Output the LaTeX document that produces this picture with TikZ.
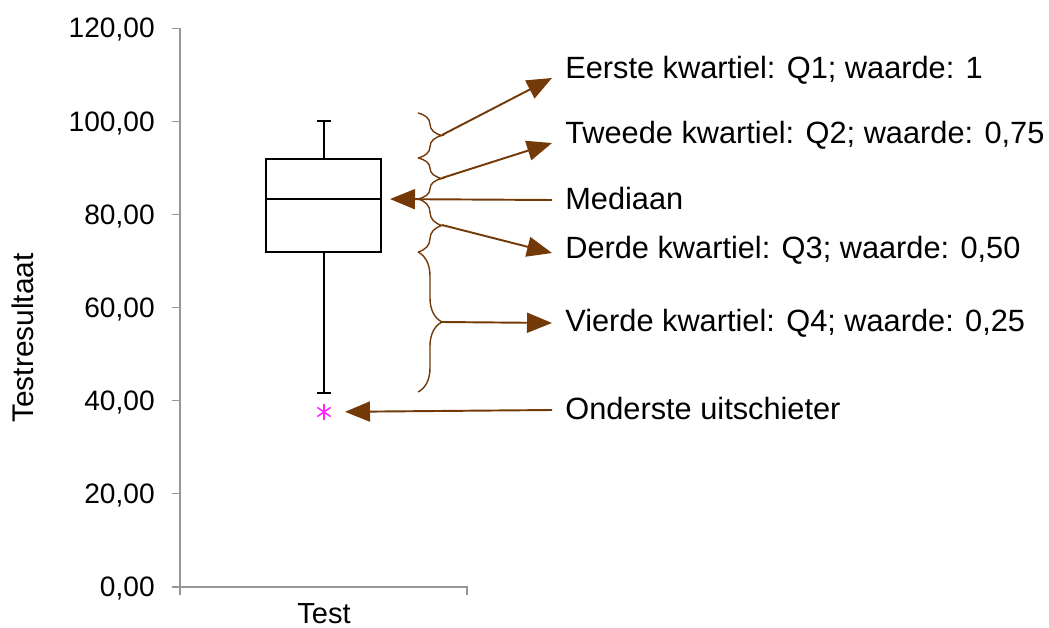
\documentclass[tikz,border=0pt]{standalone}
\usepackage{fontspec}
\setmainfont{Liberation Sans}
\usetikzlibrary{arrows.meta,decorations.pathreplacing}
\definecolor{bruin}{RGB}{115,58,8}
\definecolor{asgrijs}{RGB}{150,150,150}
\definecolor{roze}{RGB}{250,40,250}
\tikzstyle{uitleg} = [anchor=base west, inner sep=0pt, font=\fontsize{17.5}{21}\selectfont]
\tikzstyle{getal} = [anchor=east, inner sep=0pt, text depth=0pt, font=\fontsize{16}{19}\selectfont]
\tikzstyle{as} = [asgrijs, line width=0.6pt]
\tikzstyle{doos} = [black, line width=1.7pt]
\tikzstyle{accolade} = [bruin, line width=0.8pt, decorate, decoration={brace, amplitude=0.48cm}]
\tikzstyle{arrow} = [bruin, line width=1.1pt, -{Triangle[length=0.5cm,width=0.4cm]}]

\begin{document}
\begin{tikzpicture}[x=0.02cm, y=-0.02cm]
\useasboundingbox (0,0) rectangle (1049,628);

% assen
\draw[as] (180,28) -- (180,595);
\draw[as] (180,587) -- (467,587) -- (467,595);
\foreach \v/\t in {0/{0,00},20/{20,00},40/{40,00},60/{60,00},80/{80,00},100/{100,00},120/{120,00}} {
  \draw[as] (172,587-4.658*\v) -- (180,587-4.658*\v);
  \node[getal] (t\v) at (155,587-4.658*\v) {\t};
}
\node[inner sep=0pt, anchor=base, font=\fontsize{16.5}{20}\selectfont] (test) at (324,623) {Test};
\node[inner sep=0pt, anchor=base, rotate=90, font=\fontsize{17}{20}\selectfont] (ylabel) at (33,338) {Testresultaat};

% boxplot
\draw[doos] (266,159) rectangle (381,252);
\draw[doos] (266,199) -- (381,199);
\draw[doos] (324,159) -- (324,121) (317,121) -- (331,121);
\draw[doos] (324,252) -- (324,393) (317,393) -- (331,393);
\coordinate (med) at (381,199);
\coordinate (uitschieter) at (324,412);
\foreach \a in {90,35,145}
  \draw[roze, line width=0.9pt] (uitschieter) ++(\a:8) -- ++(\a:-16);

% accolades
\draw[accolade] (418,113) -- (418,158);
\draw[accolade] (418,158) -- (418,199);
\draw[accolade] (418,199) -- (418,252);
\draw[accolade] (418,252) -- (418,392);
\coordinate (k1) at (442,135);
\coordinate (k2) at (442,178);
\coordinate (k3) at (442,225);
\coordinate (k4) at (442,322);

% uitleg
\node[uitleg] (eerste) at (565,79) {Eerste kwartiel: Q1; waarde: 1};
\node[uitleg] (tweede) at (565,144) {Tweede kwartiel: Q2; waarde: 0,75};
\node[uitleg] (mediaan) at (565,210) {Mediaan};
\node[uitleg] (derde) at (565,259) {Derde kwartiel: Q3; waarde: 0,50};
\node[uitleg] (vierde) at (565,332) {Vierde kwartiel: Q4; waarde: 0,25};
\node[uitleg] (onderste) at (565,419) {Onderste uitschieter};

\draw[arrow] (k1) -- ([xshift=-0.26cm,yshift=0.02cm]eerste.base west);
\draw[arrow] (k2) -- ([xshift=-0.26cm,yshift=0.02cm]tweede.base west);
\draw[arrow, shorten >=0.18cm] ([xshift=-0.26cm,yshift=0.2cm]mediaan.base west) -- (med);
\draw[arrow] (k3) -- ([xshift=-0.26cm,yshift=0.12cm]derde.base west);
\draw[arrow] (k4) -- ([xshift=-0.26cm,yshift=0.18cm]vierde.base west);
\draw[arrow, shorten >=0.42cm] ([xshift=-0.26cm,yshift=0.18cm]onderste.base west) -- (uitschieter);
\end{tikzpicture}
\end{document}
